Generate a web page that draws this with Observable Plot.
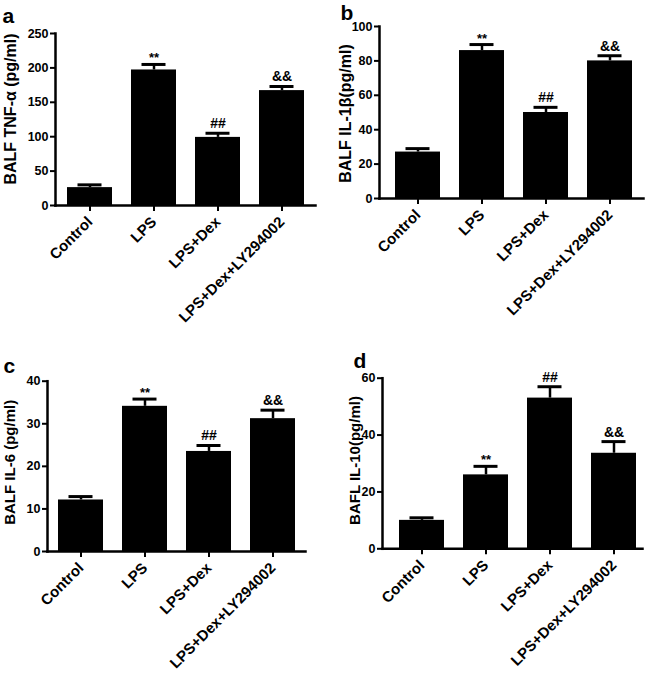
<!DOCTYPE html>
<html><head><meta charset="utf-8">
<script src="https://cdn.jsdelivr.net/npm/d3@7"></script>
<script src="https://cdn.jsdelivr.net/npm/@observablehq/plot@0.6"></script>
<style>
body{margin:0;background:#fff;}
#wrap{position:relative;width:649px;height:684px;overflow:hidden;background:#fff;}
#wrap svg{position:absolute;overflow:visible;}
</style></head><body><div id="wrap"></div>
<script>
// ---- data ----
const groups = ["Control", "LPS", "LPS+Dex", "LPS+Dex+LY294002"];
const signif = ["", "**", "##", "&&"];

const tnfMean = [26, 197, 99, 167];
const tnfSem  = [4, 8, 6, 6];
const tnfTicks = [0, 50, 100, 150, 200, 250];

const il1Mean = [27, 86, 50, 80];
const il1Sem  = [2, 3.5, 3, 3];
const il1Ticks = [0, 20, 40, 60, 80, 100];

const il6Mean = [12.1, 34.1, 23.5, 31.2];
const il6Sem  = [0.8, 1.7, 1.4, 2];
const il6Ticks = [0, 10, 20, 30, 40];

const il10Mean = [10, 26, 53, 33.6];
const il10Sem  = [0.9, 3, 4, 4.1];
const il10Ticks = [0, 20, 40, 60];

const letters = ["a", "b", "c", "d"];
const titles = ["BALF TNF-\u03b1 (pg/ml)", "BALF IL-1\u03b2(pg/ml)", "BALF IL-6 (pg/ml)", "BAFL IL-10(pg/ml)"];

// ---- layout (styles / positions) ----
const layout = [
  {mean: tnfMean, sem: tnfSem, ticks: tnfTicks, left: 0, top: 0, width: 325, height: 340,
   mL: 55, mR: 10, mT: 33, mB: 135, po: 0.18, align: 0.52,
   letterDx: -53, letterDy: -11, titleDx: -40, titleDy: -10.5, titleSize: 16},
  {mean: il1Mean, sem: il1Sem, ticks: il1Ticks, left: 325, top: 0, width: 324, height: 340,
   mL: 54, mR: 6, mT: 26, mB: 142, po: 0.21, align: 0.59,
   letterDx: -39, letterDy: -7, titleDx: -29, titleDy: 1, titleSize: 16},
  {mean: il6Mean, sem: il6Sem, ticks: il6Ticks, left: 0, top: 340, width: 325, height: 344,
   mL: 47, mR: 20, mT: 40.7, mB: 133, po: 0.156, align: 0.5,
   letterDx: -44, letterDy: -8.7, titleDx: -33, titleDy: -4, titleSize: 15},
  {mean: il10Mean, sem: il10Sem, ticks: il10Ticks, left: 325, top: 340, width: 324, height: 344,
   mL: 57, mR: 7, mT: 37.7, mB: 135.7, po: 0.171, align: 0.73,
   letterDx: -29, letterDy: -10, titleDx: -23, titleDy: -3, titleSize: 15}
];

const font = "'Liberation Sans', Arial, Helvetica, sans-serif";
const wrap = document.getElementById("wrap");

layout.forEach((p, i) => {
  const rows = groups.map((g, j) => ({group: g, mean: p.mean[j], upper: p.mean[j] + p.sem[j], sig: signif[j]}));
  const ymax = p.ticks[p.ticks.length - 1];
  const chart = Plot.plot({
    width: p.width,
    height: p.height,
    marginLeft: p.mL, marginRight: p.mR, marginTop: p.mT, marginBottom: p.mB,
    style: {fontFamily: font, fontWeight: "bold", background: "transparent", color: "#000"},
    x: {domain: groups, paddingInner: 0.3, paddingOuter: p.po, align: p.align},
    y: {domain: [0, ymax]},
    marks: [
      Plot.barY(rows, {x: "group", y: "mean", fill: "#000"}),
      Plot.ruleX(rows, {x: "group", y1: "mean", y2: "upper", stroke: "#000", strokeWidth: 2.5}),
      Plot.tickY(rows, {x: "group", y: "upper", stroke: "#000", strokeWidth: 3, insetLeft: 10.5, insetRight: 10.5}),
      Plot.text(rows.filter(d => d.sig === "**"), {x: "group", y: "upper", text: "sig", fontSize: 13, fontWeight: "bold", lineAnchor: "bottom", dy: -2, fill: "#000"}),
      Plot.text(rows.filter(d => d.sig && d.sig !== "**"), {x: "group", y: "upper", text: "sig", fontSize: 14, fontWeight: "bold", lineAnchor: "bottom", dy: -5, fill: "#000"}),
      Plot.frame({anchor: "left", stroke: "#000", strokeWidth: 2.5}),
      Plot.frame({anchor: "bottom", stroke: "#000", strokeWidth: 2.5}),
      Plot.axisY({ticks: p.ticks, tickSize: 5, tickPadding: 2, fontSize: 12.5, fontWeight: "bold", strokeWidth: 2, label: null}),
      Plot.axisX({tickSize: 6, tickPadding: 8, tickRotate: -45, fontSize: 15, fontWeight: "bold", strokeWidth: 2, label: null}),
      Plot.text([titles[i]], {frameAnchor: "left", rotate: -90, textAnchor: "middle", lineAnchor: "bottom", dx: p.titleDx, dy: p.titleDy, fontSize: p.titleSize, fontWeight: "bold", fill: "#000"}),
      Plot.text([letters[i]], {frameAnchor: "top-left", textAnchor: "start", lineAnchor: "bottom", dx: p.letterDx, dy: p.letterDy, fontSize: 21, fontWeight: "bold", fill: "#000"})
    ]
  });
  chart.style.left = p.left + "px";
  chart.style.top = p.top + "px";
  wrap.appendChild(chart);
});
</script>
</body></html>
